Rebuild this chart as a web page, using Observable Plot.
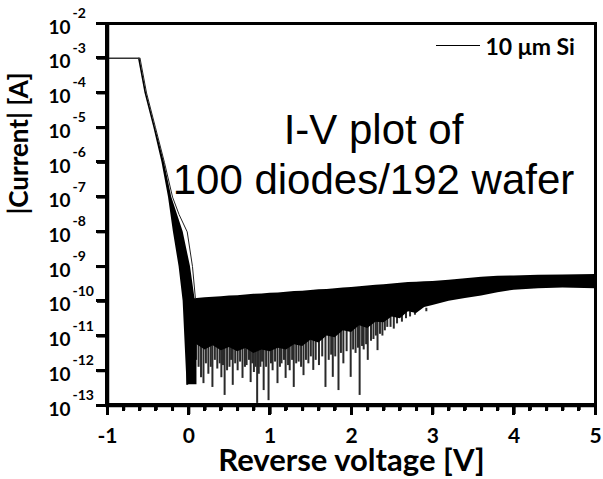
<!DOCTYPE html>
<html><head><meta charset="utf-8">
<script src="https://cdn.jsdelivr.net/npm/d3@7"></script>
<script src="https://cdn.jsdelivr.net/npm/@observablehq/plot@0.6"></script>
<style>
body{margin:0;background:#fff;}
#wrap{position:relative;width:603px;height:479px;}
.deco{position:absolute;background:#000;z-index:5;}
</style></head><body>
<div id="wrap"></div>
<script>
// ---- data (current given as log10 exponents) ----
const xTicks = [-1, 0, 1, 2, 3, 4, 5];
const xMinorTicks = [-0.8,-0.6,-0.4,-0.2,0.2,0.4,0.6,0.8,1.2,1.4,1.6,1.8,2.2,2.4,2.6,2.8,3.2,3.4,3.6,3.8,4.2,4.4,4.6,4.8];
const yExponents = [-13, -12, -11, -10, -9, -8, -7, -6, -5, -4, -3, -2];

// compliance plateau
const flatV = [-1, -0.61];
const flatLog = [-3, -3];

// steep descent bundle (left/right edge voltage for each current level)
const descentLog   = [-3,    -4,    -5,    -6,    -7,    -8,    -9,    -10,   -11,   -12,   -12.4];
const descentLeft  = [-0.62, -0.54, -0.43, -0.33, -0.25, -0.19, -0.12, -0.07, -0.05, -0.03, -0.02];
const descentRight = [-0.60, -0.52, -0.41, -0.30, -0.21, -0.07,  0.02,  0.08,  0.10,  0.10,  0.10];

// one curve slightly outside the bundle
const outlierV   = [-0.60, -0.52, -0.41, -0.30, -0.20, -0.12, -0.02, 0.045, 0.08];
const outlierLog = [-3,    -4,    -5,    -6,    -7,    -7.5,  -8,    -9,    -9.9];

// dense reverse-leakage band (upper / lower edge)
const bandV     = [0.0,   0.1,   0.2,   0.3,   0.4,   0.5,   0.6,   0.7,   0.8,   0.9,   1.0,   1.1,   1.2,   1.3,   1.4,   1.5,   1.6,   1.7,   1.8,   1.9,   2.0,   2.1,   2.2,   2.3,   2.4,   2.5,   2.6,   2.7,   2.8,   2.9,   3.0,   3.2,   3.4,   3.6,   3.8,  4.0,  4.3,  4.6,  5.0];
const bandUpper = [-9.95, -9.92, -9.9,  -9.88, -9.87, -9.85, -9.84, -9.82, -9.8,  -9.79, -9.77, -9.76, -9.74, -9.72, -9.71, -9.69, -9.67, -9.66, -9.64, -9.62, -9.60, -9.58, -9.56, -9.54, -9.52, -9.5,  -9.48, -9.46, -9.45, -9.44, -9.43, -9.39, -9.35, -9.31, -9.28, -9.27, -9.25, -9.24, -9.23];
const bandLower = [-11.3, -11.25,-11.4, -11.28,-11.42,-11.33,-11.45,-11.36,-11.5, -11.4, -11.45,-11.35,-11.4, -11.25,-11.3, -11.12,-11.2, -11.0, -11.05,-10.85,-10.9, -10.7, -10.78,-10.6, -10.62,-10.45,-10.5, -10.3, -10.35,-10.18,-10.12,-10.0, -9.92, -9.85, -9.75,-9.68,-9.64,-9.62,-9.64];

// noise spikes (deep dips of individual curves)
const spikeV    = [-0.02, 0.03, 0.06, 0.09, 0.12, 0.15, 0.18, 0.21, 0.24, 0.27, 0.29, 0.32, 0.35, 0.38, 0.40, 0.42, 0.44, 0.47, 0.50, 0.52, 0.54, 0.57, 0.60, 0.63, 0.66, 0.69, 0.71, 0.74, 0.76, 0.78, 0.80, 0.82, 0.84, 0.86, 0.88, 0.90, 0.92, 0.95, 0.98, 1.01, 1.03, 1.06, 1.09, 1.12, 1.14, 1.17, 1.19, 1.22, 1.24, 1.27, 1.29, 1.32, 1.35, 1.38, 1.41, 1.44, 1.47, 1.50, 1.53, 1.56, 1.60, 1.64, 1.68, 1.72, 1.75, 1.77, 1.80, 1.84, 1.87, 1.90, 1.94, 1.99, 2.02, 2.05, 2.08, 2.10, 2.13, 2.15, 2.18, 2.20, 2.24, 2.27, 2.30, 2.32, 2.35, 2.38, 2.41, 2.44, 2.48, 2.52, 2.56, 2.62, 2.67, 2.72, 2.78, 2.85, 2.92];
const spikeTip  = [-12.42,-11.8,-12.34,-11.7,-11.9,-12.2,-12.37,-11.8,-12.1,-11.9,-12.48,-11.7,-11.95,-11.8,-12.2,-11.85,-12.71,-12.0,-11.9,-11.7,-12.42,-11.8,-12.0,-11.75,-12.22,-11.9,-11.85,-11.7,-12.34,-11.8,-12.05,-11.9,-12.94,-12.1,-11.9,-11.75,-12.57,-11.9,-12.86,-11.8,-12.0,-11.75,-12.37,-11.9,-11.8,-11.7,-12.22,-11.85,-12.0,-11.7,-12.48,-11.8,-11.75,-11.9,-12.14,-11.7,-11.8,-11.6,-11.99,-11.7,-11.85,-11.6,-12.48,-11.7,-11.55,-12.19,-11.6,-12.57,-11.5,-11.8,-11.45,-12.19,-11.4,-11.5,-11.35,-12.71,-11.3,-11.4,-11.25,-11.7,-11.15,-11.1,-11.0,-11.42,-10.95,-11.0,-10.85,-10.75,-10.75,-10.8,-10.65,-10.6,-10.5,-10.45,-10.4,-10.3,-10.2];
const spikeBase = spikeV.map(() => -10.3);

const annotation = "I-V plot of\n100 diodes/192 wafer";
const xLabel = "Reverse voltage [V]";
const yLabel = "|Current| [A]";
const legendLabel = "10 μm Si";

// ---- tables ----
const E = e => Math.pow(10, e);
const flat = flatV.map((v, i) => ({v, i: E(flatLog[i])}));
const descent = descentLog.map((l, k) => ({i: E(l), l: descentLeft[k], r: descentRight[k]}));
const outlier = outlierV.map((v, k) => ({v, i: E(outlierLog[k])}));
const band = bandV.map((v, k) => ({v, hi: E(bandUpper[k]), lo: E(bandLower[k])}));
const spikes = spikeV.map((v, k) => ({v, tip: E(spikeTip[k]), base: E(spikeBase[k])}));

const W = 603, H = 479, mL = 107, mR = 8, mT = 23, mB = 74;
const fw = W - mL - mR, fh = H - mT - mB;
const bold = {fontWeight: "bold", fill: "#000"};
const plot = Plot.plot({
  width: W, height: H,
  marginLeft: mL, marginRight: mR, marginTop: mT, marginBottom: mB,
  style: {fontFamily: "Lato, sans-serif"},
  x: {domain: [-1, 5], axis: null},
  y: {type: "log", domain: [1e-13, 1e-2], axis: null},
  marks: [
    Plot.ruleX(spikes, {x: "v", y1: "base", y2: "tip", stroke: "#2a2a2a", strokeWidth: 2}),
    Plot.areaY(band, {x: "v", y1: "lo", y2: "hi", fill: "#000"}),
    Plot.areaX(descent, {y: "i", x1: "l", x2: "r", fill: "#000"}),
    Plot.line(flat, {x: "v", y: "i", stroke: "#333", strokeWidth: 1.3}),
    Plot.line(outlier, {x: "v", y: "i", stroke: "#222", strokeWidth: 1}),
    // frame
    Plot.ruleX([-1], {stroke: "#000", strokeWidth: 3.5}),
    Plot.ruleX([5], {stroke: "#000", strokeWidth: 3}),
    Plot.ruleY([1e-13], {stroke: "#000", strokeWidth: 3.5, insetLeft: -1.5, insetRight: -1.5}),
    Plot.ruleY([1e-2], {stroke: "#000", strokeWidth: 3, insetLeft: -1.5, insetRight: -1.5}),
    // ticks
    Plot.ruleY(yExponents.map(E), {stroke: "#000", strokeWidth: 3, insetLeft: -10, insetRight: fw}),
    Plot.ruleX(xTicks, {stroke: "#000", strokeWidth: 3, insetTop: fh, insetBottom: -9}),
    Plot.ruleX(xMinorTicks, {stroke: "#000", strokeWidth: 3, insetTop: fh, insetBottom: -5}),
    // tick labels
    Plot.text(xTicks, {x: d => d, text: d => String(d), frameAnchor: "bottom", dy: 37, fontSize: 21, ...bold}),
    Plot.text(yExponents, {frameAnchor: "left", y: E, text: () => "10", textAnchor: "end", dx: -37, dy: 4, fontSize: 19, ...bold}),
    Plot.text(yExponents, {frameAnchor: "left", y: E, text: d => String(d), textAnchor: "start", dx: -35, dy: -10, fontSize: 14, ...bold}),
    // legend text
    Plot.text([legendLabel], {frameAnchor: "top-left", dx: 378, dy: 15, textAnchor: "start", fontSize: 23, ...bold}),
    // annotation and axis titles
    Plot.text([annotation], {frameAnchor: "top", dx: 22, dy: 85, lineAnchor: "top", fontSize: 42, lineHeight: 1.19, fontFamily: "Liberation Sans, Arial, sans-serif", fill: "#000"}),
    Plot.text([xLabel], {frameAnchor: "bottom", dy: 65, fontSize: 31, ...bold}),
    Plot.text([yLabel], {frameAnchor: "left", dx: -88, rotate: -90, fontSize: 26, ...bold})
  ]
});
const wrap = document.getElementById("wrap");
wrap.append(plot);

// frame, ticks and legend sample placed through Plot's own scales
const sx = plot.scale("x"), sy = plot.scale("y");
const X0 = sx.apply(-1), X1 = sx.apply(5), Y0 = sy.apply(1e-13), Y1 = sy.apply(1e-2);
const bar = (x, y, w, h) => {
  const d = document.createElement("div");
  d.className = "deco";
  Object.assign(d.style, {left: x + "px", top: y + "px", width: w + "px", height: h + "px"});
  wrap.append(d);
};
bar(X0 - 2, Y1 - 1.5, 3.5, Y0 - Y1 + 3.5);
bar(X1 - 1.5, Y1 - 1.5, 3, Y0 - Y1 + 3.5);
bar(X0 - 2, Y0 - 1.75, X1 - X0 + 3.5, 3.5);
bar(X0 - 2, Y1 - 1.5, X1 - X0 + 3.5, 3);
yExponents.forEach(e => bar(X0 - 11, sy.apply(E(e)) - 1.5, 11, 3));
xTicks.forEach(v => bar(sx.apply(v) - 1.5, Y0, 3, 10));
xMinorTicks.forEach(v => bar(sx.apply(v) - 1.5, Y0, 3, 6));
bar(436, 44.75, 44, 1.5);
</script>
</body></html>
